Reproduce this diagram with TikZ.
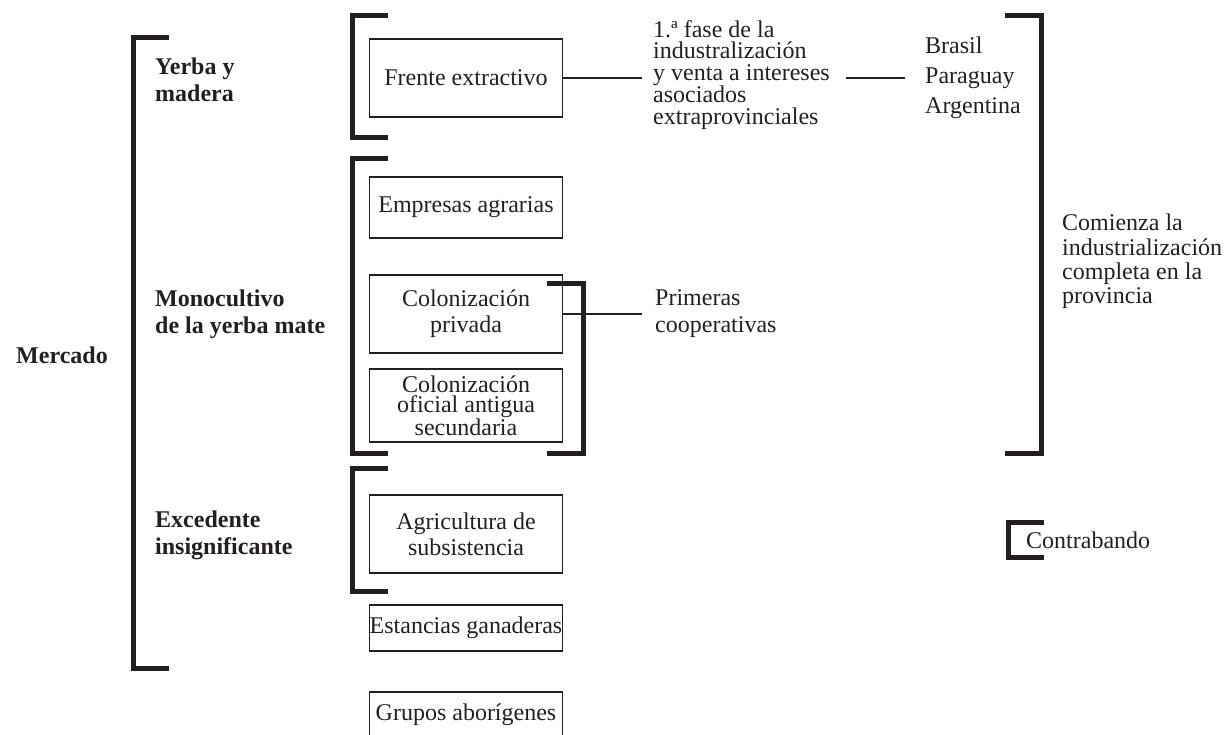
\documentclass[tikz,border=0pt]{standalone}
\usepackage{fontspec}
\setmainfont{Liberation Serif}
\definecolor{ink}{HTML}{231F20}
\begin{document}
\begin{tikzpicture}[x=1pt,y=-1pt,
  every node/.style={text=ink, inner sep=0pt},
  box/.style={draw=ink, line width=1.8pt, minimum width=193pt, align=center,
    font=\fontsize{24}{26}\selectfont},
  txt/.style={align=left, anchor=west, font=\fontsize{24}{27}\selectfont},
  lbl/.style={align=left, anchor=west, font=\bfseries\fontsize{24}{27}\selectfont},
  brk/.style={draw=ink, line width=5pt, line join=miter},
  link/.style={draw=ink, line width=1.8pt}]
\useasboundingbox (0,0) rectangle (1224,734);
\clip (0,0) rectangle (1224,734);

% left-hand category labels
\node[font=\bfseries\fontsize{24}{27}\selectfont] (mercado) at (62,355) {Mercado};
\node[lbl] (yerba) at (155,79.5) {Yerba y\\madera};
\node[lbl] (mono) at (155,314) {Monocultivo\\de la yerba mate};
\node[lbl] (exced) at (155,535) {Excedente\\insignificante};

% boxes of the central column
\node[box, minimum height=78pt] (frente) at (466,78) {Frente extractivo};
\node[box, minimum height=61pt] (empresas) at (466,207.5) {Empresas agrarias};
\node[box, minimum height=78pt] (privada) at (466,314) {Colonización\\privada};
\node[box, minimum height=73pt, font=\fontsize{24}{20.5}\selectfont] (oficial) at (466,405.5)
  {Colonización\\oficial antigua\\secundaria};
\node[box, minimum height=78pt] (agri) at (466,534) {Agricultura de\\subsistencia};
\node[box, minimum height=46pt] (estancias) at (466,628) {Estancias ganaderas};
\node[box, minimum height=46pt] (grupos) at (466,715) {Grupos aborígenes};

% right-hand texts
\node[txt, font=\fontsize{24}{21.3}\selectfont] (fase) at (653,75)
  {1.ª fase de la\\industralización\\y venta a intereses\\asociados\\extraprovinciales};
\node[txt, font=\fontsize{24}{30}\selectfont] (paises) at (925,78) {Brasil\\Paraguay\\Argentina};
\node[txt] (coop) at (655,313.5) {Primeras\\cooperativas};
\node[txt, font=\fontsize{24}{24.3}\selectfont] (comienza) at (1062,261.5)
  {Comienza la\\industrialización\\completa en la\\provincia};
\node[txt] (contra) at (1026,540) {Contrabando};

% connectors
\draw[link, shorten >=11pt] (frente.east) -- (frente.east -| fase.west);
\draw[link, shorten <=16pt, shorten >=20pt] (frente.east -| fase.east) -- (frente.east -| paises.west);
\draw[link, shorten >=13pt] (privada.east) -- (privada.east -| coop.west);

% grouping brackets
\draw[brk] (169,37) -- (133,37) -- (133,668) -- (169,668);
\draw[brk] (388,15) -- (352,15) -- (352,137) -- (388,137);
\draw[brk] (388,158) -- (352,158) -- (352,453) -- (388,453);
\draw[brk] (388,468) -- (352,468) -- (352,591) -- (388,591);
\draw[brk] (547,283) -- (583,283) -- (583,453) -- (547,453);
\draw[brk] (1005,15) -- (1041,15) -- (1041,453) -- (1005,453);
\draw[brk] (1044,522) -- (1008,522) -- (1008,557) -- (1044,557);
\end{tikzpicture}
\end{document}
